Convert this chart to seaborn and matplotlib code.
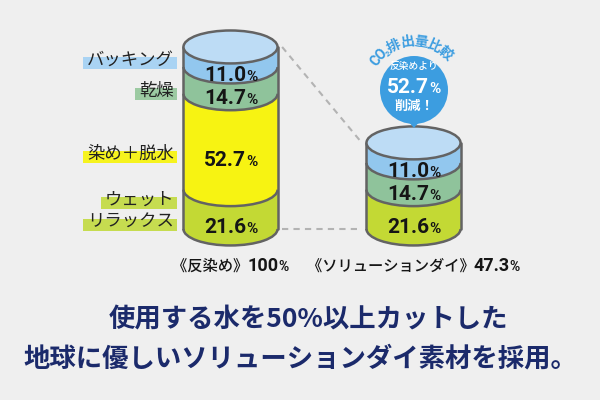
import numpy as np
import pandas as pd
import matplotlib
matplotlib.use("Agg")
import matplotlib.pyplot as plt
from matplotlib.patches import Ellipse, Arc, Rectangle, Circle, Polygon
import seaborn as sns

# ==========================================
# データ
# ==========================================
methods = ["反染め", "ソリューションダイ"]
steps = ["ウェットリラックス", "染め＋脱水", "乾燥", "バッキング"]  # 下から上へ
hanzome_vals = [21.6, 52.7, 14.7, 11.0]
solution_vals = [21.6, 0.0, 14.7, 11.0]
step_label_lines = [["ウェット", "リラックス"], ["染め＋脱水"], ["乾燥"], ["バッキング"]]
arc_title = ["C", "O", "2", "排", "出", "量", "比", "較"]
headline = ["使用する水を50%以上カットした", "地球に優しいソリューションダイ素材を採用。"]

# ==========================================
# 見た目の設定
# ==========================================
BG = "#efefef"
seg_colors = {"ウェットリラックス": "#c3d934", "染め＋脱水": "#f7f312",
              "乾燥": "#8fc39b", "バッキング": "#92c7ee"}
hl_colors = {"ウェットリラックス": "#c6dc50", "染め＋脱水": "#f6f31e",
             "乾燥": "#9ccaa2", "バッキング": "#a9d3f3"}
top_color = "#bddcf5"
outline = "#636363"
blue = "#3c9de0"
navy = "#1b2a6b"

CJK = ["Noto Sans CJK JP", "DejaVu Sans"]
NUM = ["Roboto", "DejaVu Sans"]

sns.set_theme(style="white")
plt.rcParams["font.family"] = CJK

fig = plt.figure(figsize=(6, 4), dpi=100, facecolor=BG)
ax = fig.add_axes([0, 0, 1, 1])

# 積み上げ用のデータフレーム
rows = []
for m, vals in zip(methods, [hanzome_vals, solution_vals]):
    bottom = 0.0
    for s, v in zip(steps, vals):
        if v > 0:
            rows.append({"製法": m, "工程": s, "値": v, "下端": bottom})
        bottom += v
df = pd.DataFrame(rows)
totals = df.groupby("製法", sort=False)["値"].sum().reindex(methods)
xpos = {m: i for i, m in enumerate(methods)}

W = 0.514       # 円柱の幅（カテゴリ単位）
EH = 18.1       # 楕円の高さ（%単位）

for i, s in enumerate(steps):
    sub = df[df["工程"] == s]
    sns.barplot(data=sub, x="製法", y="値", order=methods, bottom=sub["下端"].to_numpy(),
                color=seg_colors[s], saturation=1, width=W, errorbar=None,
                edgecolor="none", linewidth=0, ax=ax, zorder=2 + i)
    for _, r in sub.iterrows():
        ax.add_patch(Ellipse((xpos[r["製法"]], r["下端"]), W, EH,
                             facecolor=seg_colors[s], edgecolor="none", zorder=2 + i))

# 上面・境界線・側面
for m in methods:
    x = xpos[m]
    top = totals[m]
    ax.add_patch(Ellipse((x, top), W, EH, facecolor=top_color, edgecolor=outline,
                         linewidth=1.8, zorder=12))
    for b in df.loc[df["製法"] == m, "下端"]:
        ax.add_patch(Arc((x, b), W, EH, theta1=180, theta2=360, color=outline,
                         linewidth=1.8, zorder=11))
    for side in (-W / 2, W / 2):
        ax.plot([x + side, x + side], [0, top], color=outline, linewidth=1.8, zorder=11)

# 点線
gap = 0.025
ax.plot([W / 2 + gap, 1 - W / 2 - gap], [totals[methods[0]], totals[methods[1]]],
        color="#b3b3b3", linewidth=1.5, linestyle=(0, (3, 2.5)), zorder=1)
ax.plot([W / 2 + gap, 1 - W / 2 - gap], [0, 0],
        color="#b3b3b3", linewidth=1.5, linestyle=(0, (3, 2.5)), zorder=1)

ax.set_xlim(-1.2596, 2.0191)
ax.set_ylim(-93.96, 125.8)
ax.axis("off")

# ==========================================
# 文字（ピクセル座標のオーバーレイ）
# ==========================================
ov = fig.add_axes([0, 0, 1, 1], zorder=5)
ov.set_xlim(0, 600)
ov.set_ylim(400, 0)
ov.axis("off")
renderer = fig.canvas.get_renderer()


def to_px(x, y):
    X, Y = ax.transData.transform((x, y))
    return X, 400 - Y


def put_parts(x, y, parts, color="#151515", kern=None):
    kern = kern or [0] * len(parts)
    texts = [ov.text(0, y, s, va="baseline", ha="left", color=color, **kw) for s, kw in parts]
    widths = [t.get_window_extent(renderer).width + k for t, k in zip(texts, kern)]
    x0 = x - sum(widths) / 2
    for t, w in zip(texts, widths):
        t.set_x(x0)
        x0 += w
    return texts


# 円柱内のパーセント
for _, r in df.iterrows():
    yc = r["下端"] + r["値"] / 2 - EH / 2
    px, py = to_px(xpos[r["製法"]], yc)
    put_parts(px, py + 7.5, [(f"{r['値']:.1f}", dict(family=NUM, fontsize=15, fontweight="bold")),
                             ("%", dict(family=NUM, fontsize=11, fontweight="bold"))])

# 左側の工程ラベル（マーカー付き）
label_y = [[198, 220], [152], [89], [58]]
for s, lines, ys in zip(steps, step_label_lines, label_y):
    for txt, yc in zip(lines, ys):
        t = ov.text(174, yc + 6.5, txt, ha="right", va="baseline", fontsize=12.5,
                    color="#222222", family=CJK, zorder=3)
        bb = t.get_window_extent(renderer)
        ov.add_patch(Rectangle((bb.x0 - 4, yc - 1), bb.width + 7, 12,
                               facecolor=hl_colors[s], edgecolor="none", zorder=2))

# 下のラベル
for m in methods:
    px, _ = to_px(xpos[m], 0)
    put_parts(px, 271, [(f"《{m}》", dict(family=CJK, fontsize=11, fontweight="medium")),
                        (f"{totals[m]:g}", dict(family=NUM, fontsize=13, fontweight="bold")),
                        ("%", dict(family=NUM, fontsize=10, fontweight="bold"))],
              kern=[-1, 0, 0])

# 吹き出し
cx, cy, rad = 414, 90, 34
ov.add_patch(Circle((cx, cy), rad, facecolor=blue, edgecolor="none", zorder=2))
ov.add_patch(Polygon([(407, 120), (421, 120), (414, 128)], closed=True,
                     facecolor=blue, edgecolor="none", zorder=2))
reduction = 100 - totals[methods[1]]
ov.text(cx, 69.5, f"{methods[0]}より", ha="center", va="baseline", fontsize=7,
        color="white", fontweight="medium", zorder=3)
put_parts(cx, 93, [(f"{reduction:.1f}", dict(family=NUM, fontsize=15, fontweight="bold", zorder=3)),
                   ("%", dict(family=NUM, fontsize=11, fontweight="bold", zorder=3))], color="white")
ov.text(cx, 110, "削減！", ha="center", va="baseline", fontsize=9.5, color="white",
        fontweight="bold", zorder=3)

# 弧状の見出し
angles = [142, 133, 126, 115, 98, 82, 66, 50]
for ch, a in zip(arc_title, angles):
    small = ch == "2"
    rr = 45 if small else 48
    tx = cx + rr * np.cos(np.radians(a))
    ty = cy - rr * np.sin(np.radians(a))
    ov.text(tx, ty, ch, ha="center", va="center", rotation=a - 90,
            fontsize=5.5 if small else 10, color=blue, fontweight="bold",
            family=NUM if ch in "CO2" else CJK)

# 見出し
ov.text(308, 328, headline[0], ha="center", va="baseline", fontsize=19,
        color=navy, fontweight="bold")
ov.text(300, 367, headline[1], ha="center", va="baseline", fontsize=19,
        color=navy, fontweight="bold")

fig.savefig("out.png", dpi=100, facecolor=BG)
